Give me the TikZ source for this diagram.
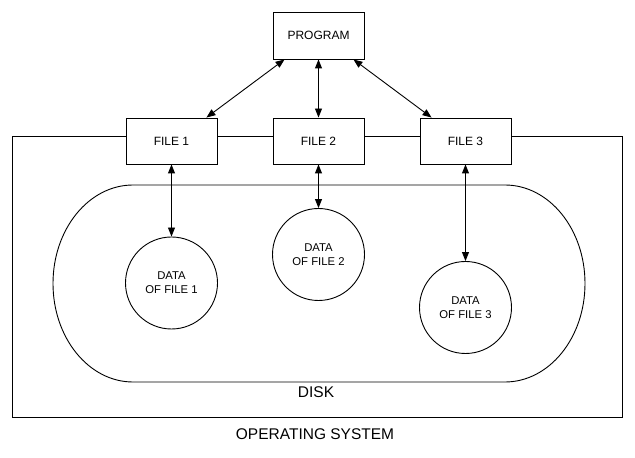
\documentclass[tikz,border=0pt]{standalone}
\usepackage{fontspec}
\setmainfont{Liberation Sans}
\usetikzlibrary{arrows.meta,calc}
\begin{document}
\begin{tikzpicture}[x=1pt,y=1pt,
  every path/.style={line width=0.9pt},
  box/.style={draw, fill=white, minimum width=91pt, minimum height=46pt, inner sep=0pt, font=\fontsize{12pt}{14pt}\selectfont},
  datacirc/.style={draw, fill=white, circle, minimum size=92pt, inner sep=0pt, align=center, font=\fontsize{11.3pt}{14pt}\selectfont},
  biarrow/.style={{Triangle[length=9pt,width=7pt]}-{Triangle[length=9pt,width=7pt]}},
  biglabel/.style={font=\fontsize{15.5pt}{18pt}\selectfont, inner sep=0pt}]
\useasboundingbox (0,0) rectangle (635,458);
% operating system frame
\draw (12,41) rectangle (622,322);
% disk
\draw (133,273) -- (505,273) arc[start angle=90, end angle=-90, x radius=80, y radius=98.5]
      -- (133,76) arc[start angle=270, end angle=90, x radius=80, y radius=98.5] -- cycle;
% nodes
\node[box, minimum height=47pt] (prog) at (318.5,422.5) {PROGRAM};
\node[box] (f1) at (171.5,317) {FILE 1};
\node[box] (f2) at (318.5,317) {FILE 2};
\node[box] (f3) at (465.5,317) {FILE 3};
\node[datacirc] (d1) at (171.5,175) {DATA\\OF FILE 1};
\node[datacirc] (d2) at (318.5,203.5) {DATA\\OF FILE 2};
\node[datacirc] (d3) at (465.5,150.5) {DATA\\OF FILE 3};
\node[biglabel] (disk) at (316,66) {DISK};
\node[biglabel] (os) at (315,24) {OPERATING SYSTEM};
% connectors
\coordinate (p1) at ($(prog.south west)+(12,0)$);
\coordinate (q1) at ($(f1.north east)+(-11,0)$);
\coordinate (p3) at ($(prog.south east)+(-11,0)$);
\coordinate (q3) at ($(f3.north west)+(12,0)$);
\draw[biarrow] (p1) -- (q1);
\draw[biarrow] (prog.south) -- (f2.north);
\draw[biarrow] (p3) -- (q3);
\draw[biarrow] (f1.south) -- (d1.north);
\draw[biarrow] (f2.south) -- (d2.north);
\draw[biarrow] (f3.south) -- (d3.north);
\end{tikzpicture}
\end{document}
